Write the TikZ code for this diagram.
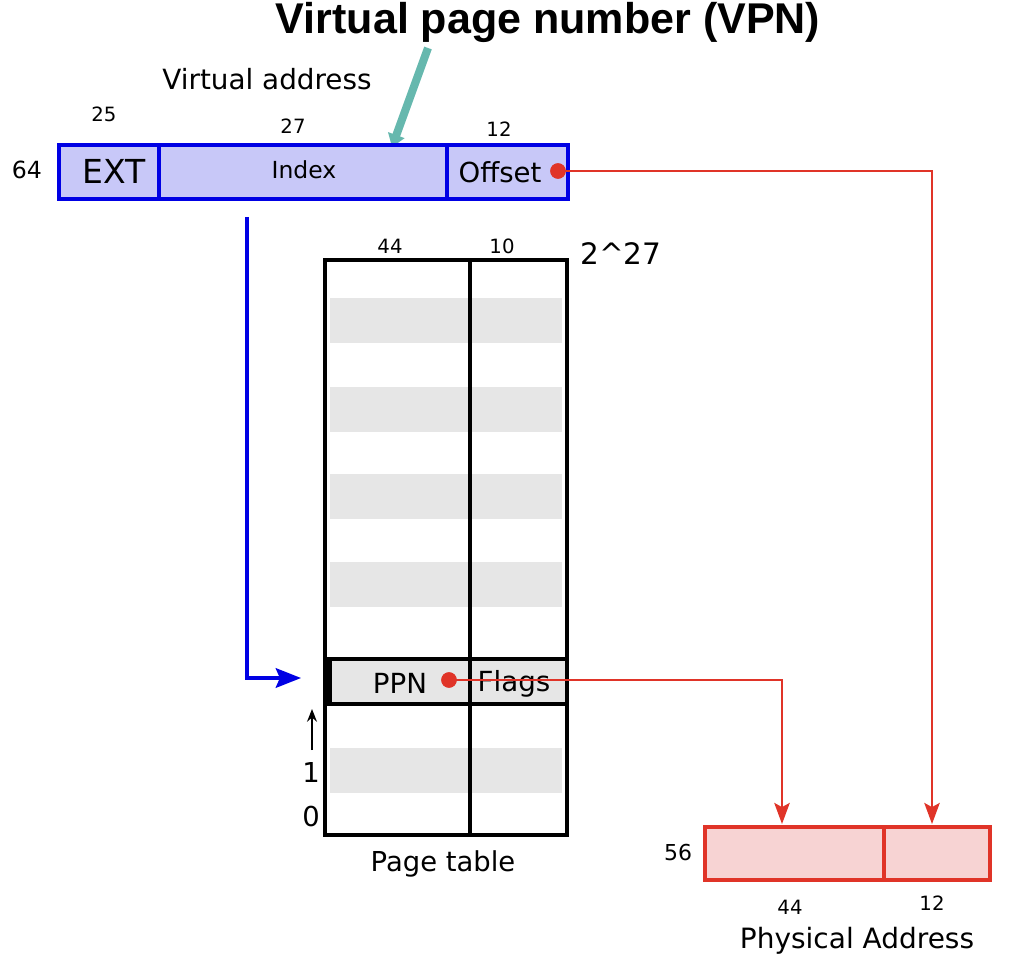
\documentclass[tikz,border=0pt]{standalone}
\usepackage{fontspec}
\setmainfont{DejaVu Sans}
\newfontfamily\titlefont{Liberation Sans}
\usetikzlibrary{arrows.meta}
\definecolor{vablue}{RGB}{0,0,228}
\definecolor{vafill}{RGB}{200,200,248}
\definecolor{pared}{RGB}{224,52,40}
\definecolor{pafill}{RGB}{247,211,211}
\definecolor{rowgray}{RGB}{230,230,230}
\definecolor{vpnteal}{RGB}{102,184,174}
\newcommand{\fsz}[1]{\fontsize{#1pt}{#1pt}\selectfont}

\begin{document}
\begin{tikzpicture}[x=0.025cm, y=-0.025cm,
  txt/.style={inner sep=0pt, anchor=center},
  bits/.style={txt, font=\fsz{14}},
  vafield/.style={draw=vablue, fill=vafill, line width=3.1pt},
  pafield/.style={draw=pared, fill=pafill, line width=2.4pt},
  reddot/.style={shape=circle, fill=pared, inner sep=0pt, minimum size=11pt},
  redline/.style={draw=pared, line width=1.5pt, -{Stealth[length=15pt, width=11pt, inset=3pt]}}]
\useasboundingbox (0,0) rectangle (1016,964);
\node[txt, font=\titlefont\bfseries\fsz{30.6}] (vpn) at (548,22) {Virtual page number (VPN)};
\node[txt, font=\fsz{19.8}] (va) at (267,79) {Virtual address};
\coordinate (vpnend) at (392,147);
\draw[vpnteal, line width=5.7pt, -{Triangle[length=9pt, width=12pt]}] (428,48) -- (vpnend);
% virtual address
\draw[vafield] (59,145) rectangle (159,199);
\draw[vafield] (159,145) rectangle (447,199);
\draw[vafield] (447,145) rectangle (568,199);
\node[bits] (b25) at (104,114) {25};
\node[bits] (b27) at (293,126) {27};
\node[bits] (b12) at (499,129) {12};
\node[txt, font=\fsz{16.8}] (b64) at (27,170) {64};
\node[txt, font=\fsz{23.5}] (ext) at (114,171) {EXT};
\node[txt, font=\fsz{16.7}] (index) at (304,170) {Index};
\node[txt, font=\fsz{19.6}] (offset) at (500,172) {Offset};
% page table
\foreach \y in {298,387,474,562,748} \fill[rowgray] (330,\y) rectangle ++(232,45);
\draw[line width=2.8pt] (325,260) rectangle (567,835);
\draw[fill=rowgray, line width=2.8pt] (328,659) rectangle (567,704);
\draw[line width=5pt] (328,659) -- (328,704);
\draw[line width=2.8pt] (470,260) -- (470,835);
\node[bits] (b44) at (390,246) {44};
\node[bits] (b10) at (502,246) {10};
\node[txt, font=\fsz{21}] (rows) at (621,254) {2\textasciicircum 27};
\node[txt, font=\fsz{19.7}] (ppn) at (400,683) {PPN};
\node[txt, font=\fsz{19.7}] (flags) at (514,684) {Flags};
\node[txt, font=\fsz{19.5}] (r1) at (311,772) {1};
\node[txt, font=\fsz{19.5}] (r0) at (311,817) {0};
\node[txt, font=\fsz{19.5}] (pt) at (443,864) {Page table};
\coordinate (up0) at (312,750);
\coordinate (up1) at (312,709);
\draw[line width=1.8pt, -{Stealth[length=9pt, width=7pt]}] (up0) -- (up1);
% physical address
\draw[pafield] (705,827) rectangle (884,880);
\draw[pafield] (884,827) rectangle (990,880);
\node[txt, font=\fsz{15.6}] (b56) at (678,853) {56};
\node[bits] (p44) at (790,907) {44};
\node[bits] (p12) at (932,903) {12};
\node[txt, font=\fsz{19.9}] (pa) at (857,941) {Physical Address};
% connectors
\coordinate (ia) at (247,217);
\coordinate (ie) at (301,678);
\draw[vablue, line width=2.3pt, -{Stealth[length=18pt, width=14pt, inset=3pt]}] (ia) |- (ie);
\coordinate (pa1) at (782,824);
\coordinate (pa2) at (932,824);
\node[reddot] (od) at (558,171) {};
\node[reddot] (pd) at (449,680) {};
\draw[redline] (od.center) -| (pa2);
\draw[redline] (pd.center) -| (pa1);
\node[reddot] at (od) {};
\node[reddot] at (pd) {};
\end{tikzpicture}
\end{document}
